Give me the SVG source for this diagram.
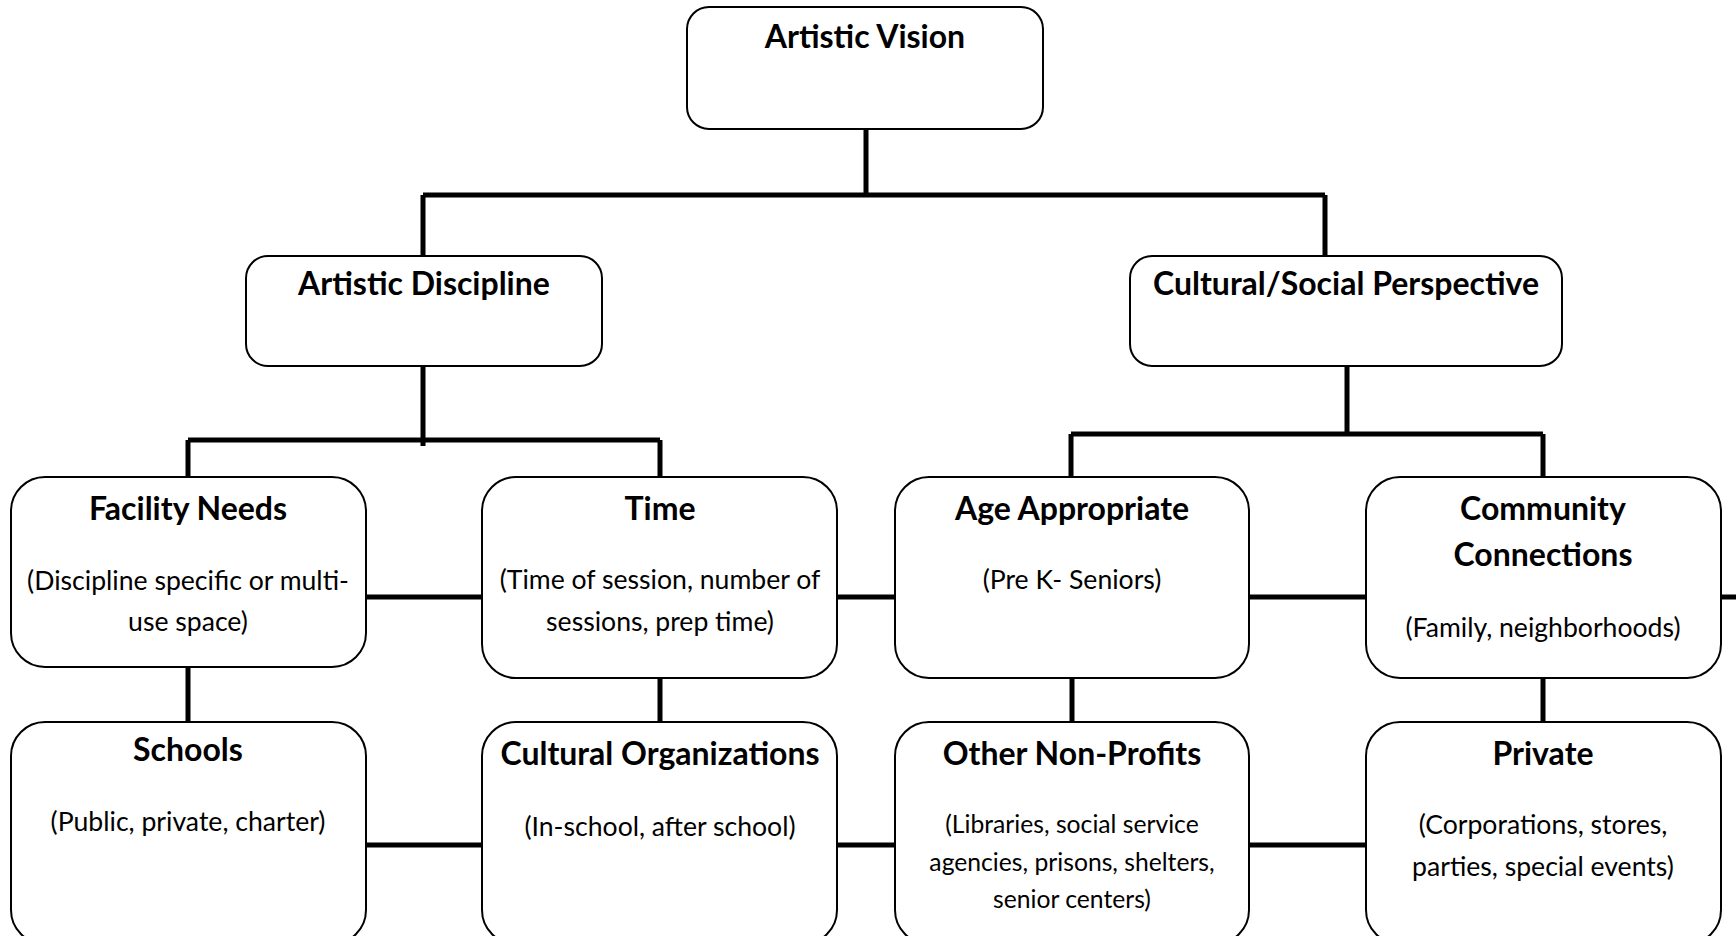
<svg xmlns="http://www.w3.org/2000/svg" width="1736" height="936" viewBox="0 0 1736 936">
<style>
.box{fill:#fff;stroke:#000;stroke-width:2}
.t{font-family:Lato,"Open Sans","Liberation Sans",sans-serif;font-weight:bold;font-size:32px;text-anchor:middle;fill:#000}
.s{font-family:Lato,"Open Sans","Liberation Sans",sans-serif;font-size:26.6px;text-anchor:middle;fill:#000}
.ss{font-family:Lato,"Open Sans","Liberation Sans",sans-serif;font-size:24.7px;text-anchor:middle;fill:#000}
.c{stroke:#000;stroke-width:5;fill:none}
</style>
<rect width="1736" height="936" fill="#fff"/>
<g id="connectors" class="c">
<path d="M866 129V195M423 195H1325M423 195V256M1325 195V256"/>
<path d="M423 366V446M188 440H660M188 440V477M660 440V477"/>
<path d="M1347 366V434M1071 434H1543M1071 434V477M1543 434V477"/>
<path d="M366 597H482M837 597H895M1249 597H1366M1721 597H1736"/>
<path d="M188 667V722M660 678V722M1072 678V722M1543 678V722"/>
<path d="M366 845H482M837 845H895M1249 845H1366"/>
</g>
<g id="artistic-vision"><rect class="box" x="687" y="7" width="356" height="122" rx="22"/><text class="t" x="865" y="48">Artistic Vision</text></g>
<g id="artistic-discipline"><rect class="box" x="246" y="256" width="356" height="110" rx="22"/><text class="t" x="424" y="295">Artistic Discipline</text></g>
<g id="cultural-social"><rect class="box" x="1130" y="256" width="432" height="110" rx="22"/><text class="t" x="1346" y="295">Cultural/Social Perspective</text></g>
<g id="facility-needs"><rect class="box" x="11" y="477" width="355" height="190" rx="34"/><text class="t" x="188" y="520">Facility Needs</text><text class="s" x="188" y="590">(Discipline specific or multi-</text><text class="s" x="188" y="631">use space)</text></g>
<g id="time"><rect class="box" x="482" y="477" width="355" height="201" rx="34"/><text class="t" x="660" y="520">Time</text><text class="s" x="660" y="589">(Time of session, number of</text><text class="s" x="660" y="631">sessions, prep time)</text></g>
<g id="age-appropriate"><rect class="box" x="895" y="477" width="354" height="201" rx="34"/><text class="t" x="1072" y="520">Age Appropriate</text><text class="s" x="1072" y="589">(Pre K- Seniors)</text></g>
<g id="community-connections"><rect class="box" x="1366" y="477" width="355" height="201" rx="34"/><text class="t" x="1543" y="520">Community</text><text class="t" x="1543" y="566">Connections</text><text class="s" x="1543" y="637">(Family, neighborhoods)</text></g>
<g id="schools"><rect class="box" x="11" y="722" width="355" height="222" rx="34"/><text class="t" x="188" y="761">Schools</text><text class="s" x="188" y="831">(Public, private, charter)</text></g>
<g id="cultural-organizations"><rect class="box" x="482" y="722" width="355" height="222" rx="34"/><text class="t" x="660" y="765">Cultural Organizations</text><text class="s" x="660" y="836">(In-school, after school)</text></g>
<g id="other-non-profits"><rect class="box" x="895" y="722" width="354" height="222" rx="34"/><text class="t" x="1072" y="765">Other Non-Profits</text><text class="ss" x="1072" y="833">(Libraries, social service</text><text class="ss" x="1072" y="871">agencies, prisons, shelters,</text><text class="ss" x="1072" y="908">senior centers)</text></g>
<g id="private"><rect class="box" x="1366" y="722" width="355" height="222" rx="34"/><text class="t" x="1543" y="765">Private</text><text class="s" x="1543" y="834">(Corporations, stores,</text><text class="s" x="1543" y="876">parties, special events)</text></g>
</svg>
